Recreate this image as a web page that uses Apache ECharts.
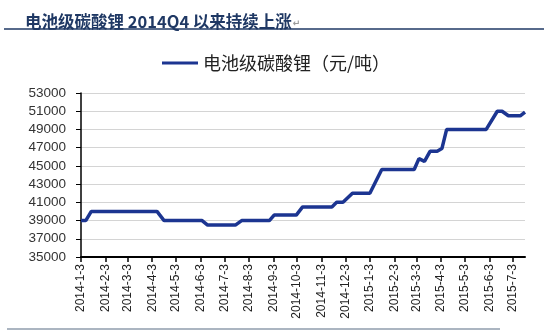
<!DOCTYPE html>
<html>
<head>
<meta charset="utf-8">
<script src="https://cdn.jsdelivr.net/npm/echarts@6/dist/echarts.min.js"></script>
<style>
html,body{margin:0;padding:0;background:#fff;}
#chart{width:552px;height:331px;}
</style>
</head>
<body>
<div id="chart"></div>
<script>
// Data
var titleText = '电池级碳酸锂 2014Q4 以来持续上涨';
var seriesName = '电池级碳酸锂（元/吨）';
var dates = ['2014-1-3','2014-1-9','2014-1-16','2014-4-9','2014-4-18','2014-6-5','2014-6-12','2014-7-17','2014-7-25','2014-8-29','2014-9-4','2014-10-2','2014-10-10','2014-11-16','2014-11-22','2014-11-30','2014-12-12','2015-1-3','2015-1-18','2015-2-28','2015-3-6','2015-3-13','2015-3-20','2015-3-29','2015-4-4','2015-4-10','2015-5-30','2015-6-13','2015-6-19','2015-6-27','2015-7-12','2015-7-18'];
var prices = [39000,39000,40000,40000,39000,39000,38500,38500,39000,39000,39600,39600,40500,40500,41000,41000,42000,42000,44600,44600,45800,45500,46600,46600,46900,49000,49000,51000,51000,50500,50500,50900];
var tickDates = ['2014-1-3','2014-2-3','2014-3-3','2014-4-3','2014-5-3','2014-6-3','2014-7-3','2014-8-3','2014-9-3','2014-10-3','2014-11-3','2014-12-3','2015-1-3','2015-2-3','2015-3-3','2015-4-3','2015-5-3','2015-6-3','2015-7-3'];
var xStart = '2014-1-3', xEnd = '2015-7-18';
var yMin = 35000, yMax = 53000, yStep = 2000;

var DAY = 86400000;
var origin = Date.UTC(2014,0,3);
// day number since xStart
function dn(s){var p=s.split('-');return Math.round((Date.UTC(+p[0],+p[1]-1,+p[2])-origin)/DAY);}
function fmt(v){var d=new Date(origin+Math.round(v)*DAY);return d.getUTCFullYear()+'-'+(d.getUTCMonth()+1)+'-'+d.getUTCDate();}

var seriesData = dates.map(function(d,i){return [dn(d), prices[i]];});
var tickVals = tickDates.map(dn);

var chart = echarts.init(document.getElementById('chart'), null, {renderer:'canvas'});
chart.setOption({
  animation:false,
  backgroundColor:'#ffffff',
  title:{
    text:'{t|'+titleText+'}{m|↵}',
    left:20, top:8,
    textStyle:{
      rich:{
        t:{fontSize:16.5,fontWeight:'bold',color:'#1f3864',fontFamily:'Noto Sans CJK SC'},
        m:{fontSize:9,color:'#999999',fontFamily:'DejaVu Sans',padding:[4,0,0,1]}
      }
    }
  },
  graphic:[
    {type:'line',shape:{x1:4,y1:29,x2:544,y2:29},style:{stroke:'#1f3864',lineWidth:1.5},silent:true},
    {type:'line',shape:{x1:7,y1:329,x2:500,y2:329},style:{stroke:'#8f9cac',lineWidth:1.5},silent:true}
  ],
  legend:{
    left:157, top:47,
    icon:'rect', itemWidth:36, itemHeight:3, itemGap:8,
    textStyle:{fontSize:18,color:'#222222',fontFamily:'Noto Sans CJK SC',lineHeight:22},
    data:[seriesName]
  },
  grid:{left:81,right:27,top:93,bottom:74,containLabel:false},
  xAxis:{
    type:'value',
    min:dn(xStart), max:dn(xEnd),
    axisLine:{show:true,onZero:false,lineStyle:{color:'#000000',width:2}},
    axisTick:{show:true,length:5,lineStyle:{color:'#000000',width:1.5},customValues:tickVals},
    axisLabel:{
      customValues:tickVals,
      rotate:90, margin:7, fontSize:12, color:'#222222', fontFamily:'Liberation Sans',
      formatter:function(v){return fmt(v);}
    },
    splitLine:{show:false}
  },
  yAxis:{
    type:'value',
    min:yMin, max:yMax, interval:yStep,
    axisLine:{show:true,lineStyle:{color:'#000000',width:1.5}},
    axisTick:{show:true,inside:false,length:5,lineStyle:{color:'#000000'}},
    axisLabel:{fontSize:13.5,color:'#333333',fontFamily:'Liberation Sans',margin:15,
      formatter:function(v){return String(v);}},
    splitLine:{show:true,lineStyle:{color:'#d4d4d4',width:1}}
  },
  series:[{
    name:seriesName,
    type:'line',
    data:seriesData,
    showSymbol:false,
    symbol:'none',
    lineStyle:{color:'#1c3591',width:3.5},
    itemStyle:{color:'#1c3591'}
  }]
});
</script>
</body>
</html>
